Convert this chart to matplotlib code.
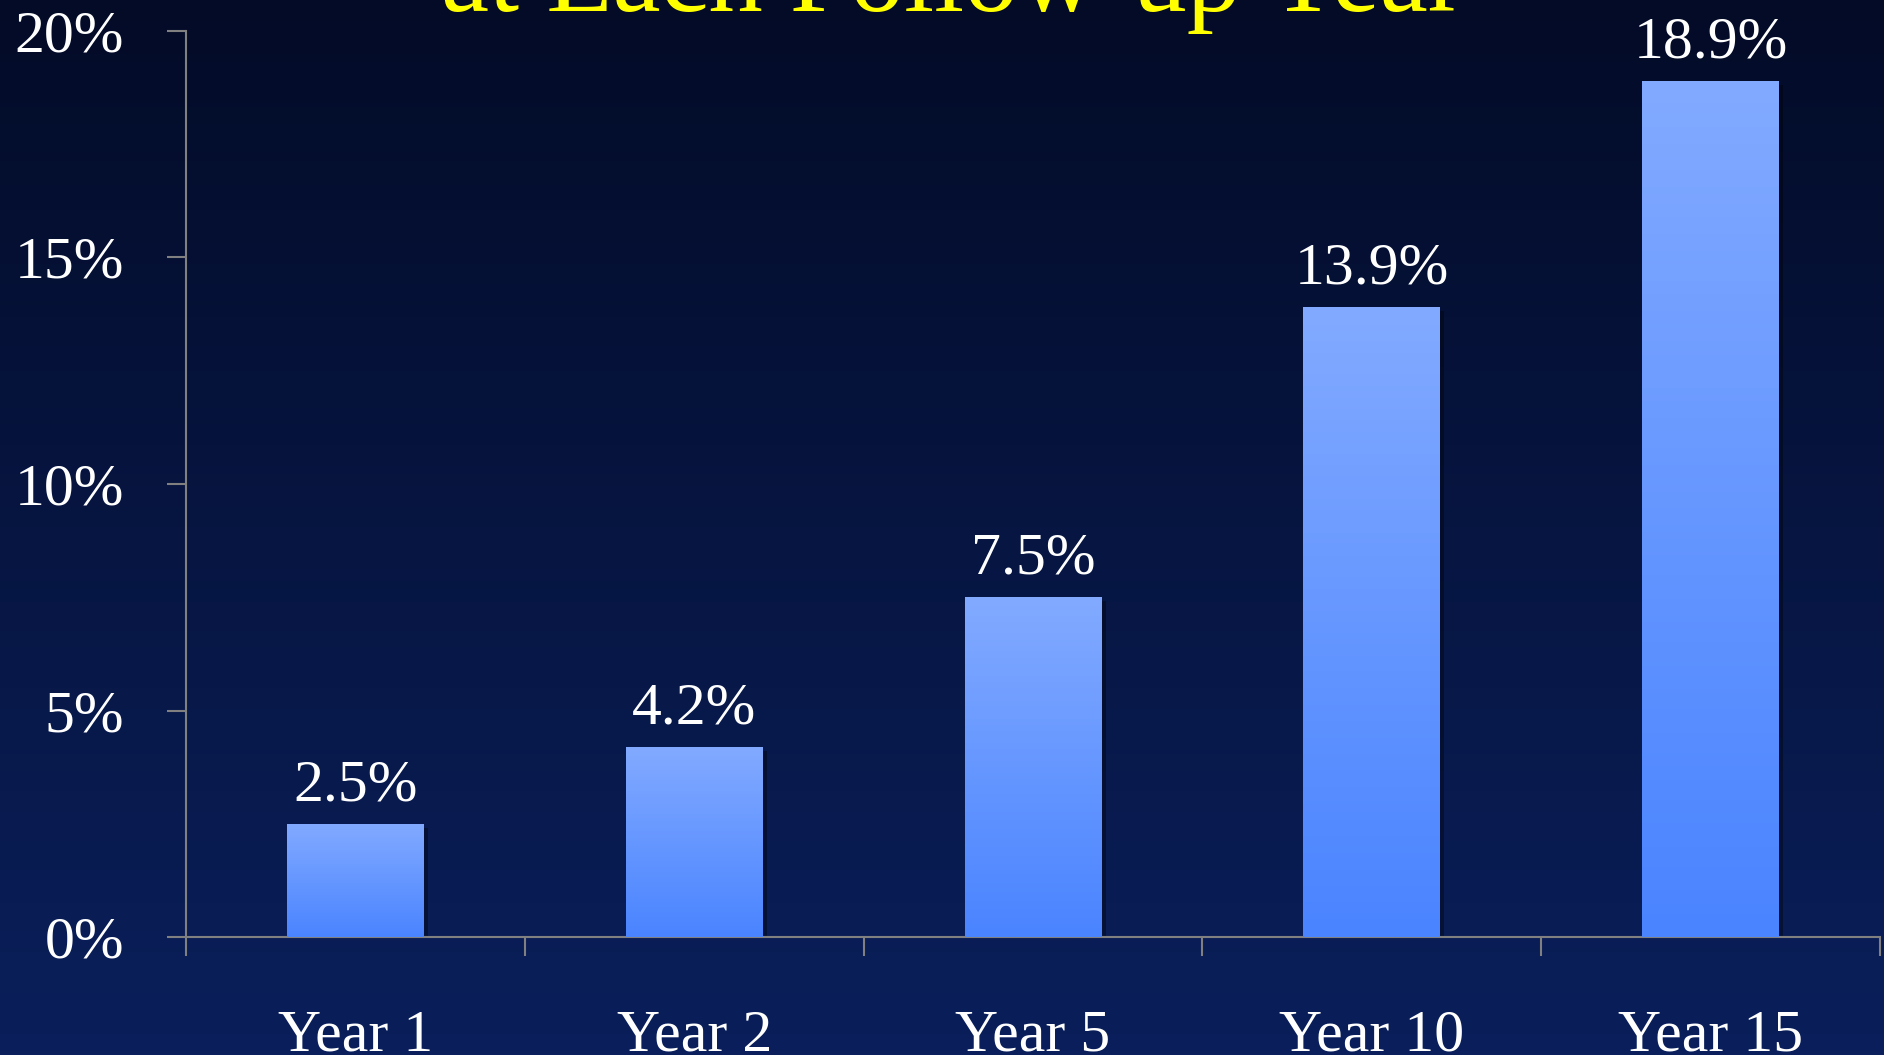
import numpy as np
import matplotlib
matplotlib.use("Agg")
import matplotlib.pyplot as plt
import matplotlib.patheffects as pe
from matplotlib.colors import LinearSegmentedColormap

# data
years = ["Year 1", "Year 2", "Year 5", "Year 10", "Year 15"]
rates = [2.5, 4.2, 7.5, 13.9, 18.9]
value_labels = ["2.5%", "4.2%", "7.5%", "13.9%", "18.9%"]
y_ticks = [0, 5, 10, 15, 20]
y_labels = ["0%", "5%", "10%", "15%", "20%"]
title_line = "at Each Follow-up Year"

plt.rcParams['font.family'] = ['Liberation Serif', 'DejaVu Serif']

W, H, DPI = 1884, 1055, 100
fig = plt.figure(figsize=(W / DPI, H / DPI), dpi=DPI)

# background gradient (dark navy top -> lighter navy bottom)
bg = fig.add_axes([0, 0, 1, 1], zorder=0)
bg_cmap = LinearSegmentedColormap.from_list("bg", ["#030b27", "#0a1f5b"])
bg.imshow(np.linspace(0, 1, 256).reshape(-1, 1), cmap=bg_cmap, aspect="auto",
          extent=(0, 1, 0, 1), origin="upper")
bg.set_axis_off()

ax = fig.add_axes([186 / W, 1 - 937 / H, (1880 - 186) / W, (937 - 31) / H], zorder=1)
ax.patch.set_alpha(0)

bar_cmap = LinearSegmentedColormap.from_list("bars", ["#4a84ff", "#82aaff"])
x = np.arange(len(years))
bars = ax.bar(x, rates, width=0.404, color="none", edgecolor="none", zorder=2,
              path_effects=[pe.SimplePatchShadow(offset=(3, -3), shadow_rgbFace="black", alpha=0.35),
                            pe.Normal()])
grad = np.linspace(1, 0, 256).reshape(-1, 1)
for b in bars:
    x0, y0 = b.get_x(), b.get_y()
    im = ax.imshow(grad, cmap=bar_cmap, aspect="auto", origin="upper",
                   extent=(x0, x0 + b.get_width(), y0, y0 + b.get_height()), zorder=3)
    im.set_clip_path(b)

for xi, r, lab in zip(x, rates, value_labels):
    ax.annotate(lab, (xi, r), xytext=(0, 17), textcoords="offset points",
                ha="center", va="baseline", color="white", fontsize=43)

ax.set_xlim(-0.5, len(years) - 0.5)
ax.set_ylim(0, 20)

for s in ["top", "right"]:
    ax.spines[s].set_visible(False)
for s in ["left", "bottom"]:
    ax.spines[s].set_color("#808080")
    ax.spines[s].set_linewidth(1.5)

ax.set_yticks(y_ticks)
ax.set_yticklabels(y_labels)
ax.tick_params(axis="y", direction="out", length=13.7, width=1.5, color="#808080",
               labelcolor="white", labelsize=43, pad=31)

ax.set_xticks(x)
ax.set_xticklabels(years)
ax.set_xticks(np.arange(-0.5, len(years)), minor=True)
ax.tick_params(axis="x", which="major", length=0, labelcolor="white", labelsize=43, pad=52)
ax.tick_params(axis="x", which="minor", direction="out", length=13.7, width=1.5, color="#808080")

fig.text(952 / W, 1 - 11 / H, title_line, ha="center", va="baseline",
         color="#ffff00", fontsize=78)

fig.savefig("out.png", dpi=DPI)
